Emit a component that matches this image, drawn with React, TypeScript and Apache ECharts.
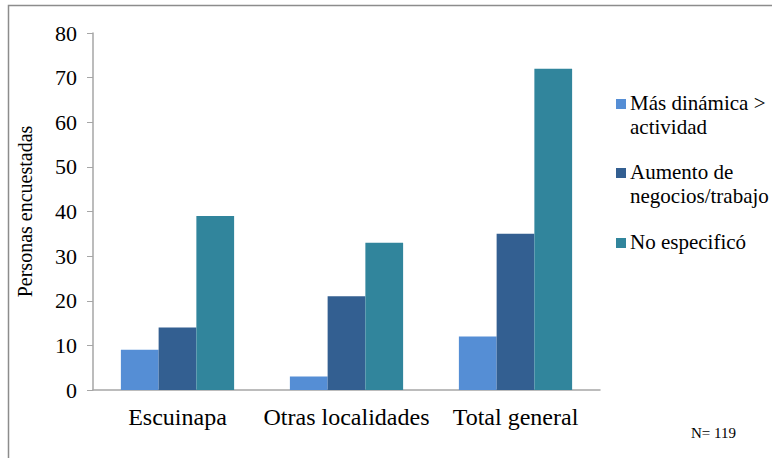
import React, { useEffect, useRef } from "react";
import * as echarts from "echarts";

const categories = ["Escuinapa", "Otras localidades", "Total general"];
const seriesNames = ["Más dinámica > actividad", "Aumento de negocios/trabajo", "No especificó"];
const legendLines = [["Más dinámica >", "actividad"], ["Aumento de", "negocios/trabajo"], ["No especificó"]];
const masDinamica = [9, 3, 12];
const aumentoNegocios = [14, 21, 35];
const noEspecifico = [39, 33, 72];
const colors = ["#558ED5", "#335F91", "#31859C"];
const yTicks = [0, 10, 20, 30, 40, 50, 60, 70, 80];
const FONT = "Liberation Serif";

export default function App() {
  const ref = useRef<HTMLDivElement>(null);
  useEffect(() => {
    document.body.style.margin = "0";
    const chart = echarts.init(ref.current!, null, { renderer: "svg" });
    const values = [masDinamica, aumentoNegocios, noEspecifico];
    const legendTops = [91, 160, 230];
    const legendGraphics: any[] = [];
    legendLines.forEach((lines, i) => {
      legendGraphics.push({
        type: "rect",
        shape: { x: 616, y: legendTops[i] + 8, width: 10, height: 10 },
        style: { fill: colors[i] },
      });
      legendGraphics.push({
        type: "text",
        x: 630,
        y: legendTops[i],
        style: {
          text: lines.join("\n"),
          fontFamily: FONT,
          fontSize: 21,
          lineHeight: 24,
          fill: "#000",
        },
      });
    });
    chart.setOption({
      animation: false,
      textStyle: { fontFamily: FONT, color: "#000" },
      grid: { left: 93, right: 172, top: 33, bottom: 68, containLabel: false },
      xAxis: {
        type: "category",
        data: categories,
        axisLine: { lineStyle: { color: "#A6A6A6", width: 1.5 } },
        axisTick: { show: false },
        axisLabel: { fontSize: 24, color: "#000", margin: 15, fontFamily: FONT, interval: 0 },
      },
      yAxis: {
        type: "value",
        min: yTicks[0],
        max: yTicks[yTicks.length - 1],
        interval: 10,
        name: "Personas encuestadas",
        nameLocation: "middle",
        nameGap: 58,
        nameRotate: 90,
        nameTextStyle: { fontSize: 20, color: "#000", fontFamily: FONT },
        axisLine: { show: true, lineStyle: { color: "#A6A6A6", width: 1.5 } },
        axisTick: { show: true, length: 6, lineStyle: { color: "#A6A6A6" } },
        splitLine: { show: false },
        axisLabel: { fontSize: 22, color: "#000", margin: 16, fontFamily: FONT },
      },
      series: seriesNames.map((name, i) => ({
        name,
        type: "bar",
        data: values[i],
        itemStyle: { color: colors[i] },
        barGap: "0%",
        barCategoryGap: "33%",
      })),
      graphic: [
        {
          type: "rect",
          shape: { x: 8.5, y: 5.5, width: 800, height: 500 },
          style: { fill: "none", stroke: "#8C8C8C", lineWidth: 1.5 },
          silent: true,
        },
        ...legendGraphics,
        {
          type: "text",
          x: 691,
          y: 425,
          style: { text: "N= 119", fontFamily: FONT, fontSize: 15, fill: "#000" },
        },
      ],
    });
    return () => chart.dispose();
  }, []);
  return <div ref={ref} style={{ width: 772, height: 458 }} />;
}
